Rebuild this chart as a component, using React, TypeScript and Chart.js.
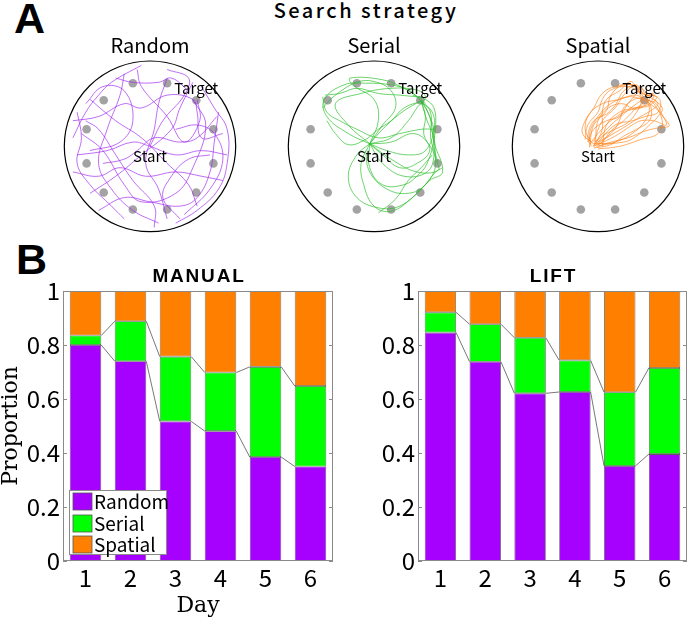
import React, { useEffect, useRef } from 'react';
import { Chart, registerables } from 'chart.js';
Chart.register(...registerables);

// ---------- data ----------
const days = ['1', '2', '3', '4', '5', '6'];
const yTickLabels = ['0', '0.2', '0.4', '0.6', '0.8', '1'];
const strategyNames = ['Random', 'Serial', 'Spatial'];

const manualRandom = [0.8, 0.74, 0.517, 0.481, 0.385, 0.35];
const manualSerial = [0.035, 0.148, 0.24, 0.217, 0.334, 0.298];
const manualSpatial = [0.165, 0.112, 0.243, 0.302, 0.281, 0.352];

const liftRandom = [0.846, 0.738, 0.621, 0.626, 0.352, 0.396];
const liftSerial = [0.075, 0.139, 0.206, 0.117, 0.273, 0.319];
const liftSpatial = [0.079, 0.123, 0.173, 0.257, 0.375, 0.285];

const wells = [
  [0.2, 0.74], [0.54, 0.54], [0.74, 0.2], [0.74, -0.2], [0.54, -0.54], [0.2, -0.74],
  [-0.2, -0.74], [-0.54, -0.54], [-0.74, -0.2], [-0.74, 0.2], [-0.54, 0.54], [-0.2, 0.74],
];
const targetWell = [0.54, 0.54];
const startPoint = [0, 0];

const randomPaths = [
  [[-0.9, 0.3], [-0.6, 0.35], [-0.3, 0.5], [-0.1, 0.45], [0.2, 0.6], [0.5, 0.55], [0.55, 0.4], [0.6, 0.1], [0.85, 0.15]],
  [[-0.85, -0.1], [-0.5, -0.05], [-0.2, 0.05], [0, 0], [0.3, -0.1], [0.6, -0.05], [0.9, -0.1]],
  [[-0.3, 0.85], [-0.35, 0.6], [-0.5, 0.2], [-0.6, -0.2], [-0.45, -0.5], [-0.2, -0.75], [0.1, -0.9]],
  [[0.2, 0.8], [0.1, 0.5], [0.05, 0.2], [-0.05, -0.2], [0.1, -0.5], [0.2, -0.85]],
  [[-0.7, 0.55], [-0.4, 0.3], [-0.1, 0.1], [0.2, -0.2], [0.45, -0.45], [0.55, -0.7]],
  [[0.5, 0.75], [0.35, 0.45], [0.25, 0.2], [-0.1, -0.1], [-0.4, -0.35], [-0.7, -0.55]],
  [[-0.9, -0.3], [-0.6, -0.35], [-0.35, -0.25], [-0.05, -0.35], [0.3, -0.3], [0.6, -0.35], [0.85, -0.4]],
  [[-0.6, -0.75], [-0.3, -0.6], [0, -0.65], [0.35, -0.7], [0.55, -0.6], [0.7, -0.3], [0.75, 0.05], [0.8, 0.4]],
  [[0.55, 0.55], [0.58, 0.3], [0.4, 0.05], [0.2, 0.35], [-0.1, 0.7], [-0.15, 0.9]],
  [[-0.8, 0.15], [-0.55, -0.05], [-0.3, -0.45], [-0.1, -0.65], [0.3, -0.55], [0.5, -0.25], [0.65, 0.25], [0.5, 0.55]],
  [[-0.4, 0.8], [-0.2, 0.75], [0.1, 0.75], [0.25, 0.8], [0.45, 0.65]],
  [[-0.75, 0.5], [-0.55, 0.7], [-0.3, 0.65], [-0.2, 0.3], [-0.35, 0.05], [-0.7, -0.05]],
  [[0.05, -0.95], [0.05, -0.7], [-0.2, -0.4], [-0.4, -0.1], [-0.6, 0.2], [-0.75, 0.3]],
  [[0.3, 0.2], [0.55, 0.25], [0.75, 0.15], [0.85, -0.15], [0.7, -0.5], [0.4, -0.8]],
  [[-0.85, 0.4], [-0.8, 0.1], [-0.85, -0.2], [-0.7, -0.45], [-0.45, -0.7], [-0.3, -0.85]],
  [[0.6, 0.7], [0.75, 0.45], [0.9, 0.2], [0.9, -0.2], [0.8, -0.5], [0.55, -0.75], [0.3, -0.9]],
  [[-0.1, 0.95], [-0.45, 0.75], [-0.6, 0.6], [-0.75, 0.4], [-0.9, 0.1]],
  [[0, 0], [0.15, 0.3], [0.4, 0.6], [0.45, 0.8], [0.2, 0.9]],
  [[-0.55, -0.2], [-0.3, -0.15], [-0.15, -0.05], [0.05, 0.1], [0.35, 0.05], [0.55, 0.1], [0.78, 0.35]],
  [[0.35, -0.85], [0.15, -0.6], [0.25, -0.35], [0.45, -0.15], [0.7, -0.1]],
];

const serialPaths = [
  [[-0.05, 0.03], [0.1, 0.2], [0.3, 0.38], [0.45, 0.48], [0.55, 0.53]],
  [[-0.05, 0.03], [-0.3, 0.15], [-0.55, 0.35], [-0.58, 0.55], [-0.35, 0.72], [-0.1, 0.74], [0.2, 0.72], [0.42, 0.65], [0.55, 0.53]],
  [[0.55, 0.53], [0.62, 0.3], [0.7, 0.1], [0.72, -0.15], [0.75, -0.28], [0.5, -0.3], [0.2, -0.15], [-0.05, 0.03]],
  [[-0.05, 0.03], [-0.15, -0.2], [-0.12, -0.45], [0, -0.7], [0.2, -0.76], [0.45, -0.6], [0.65, -0.4], [0.8, -0.3], [0.7, 0.05], [0.65, 0.35], [0.55, 0.53]],
  [[-0.6, 0.58], [-0.55, 0.4], [-0.4, 0.3], [-0.2, 0.2], [0.05, 0.1], [0.3, 0.15], [0.55, 0.2], [0.7, 0.2]],
  [[-0.05, 0.03], [0.05, 0.3], [0, 0.55], [-0.25, 0.72], [-0.28, 0.8], [0.1, 0.78], [0.35, 0.68], [0.55, 0.55], [0.6, 0.5]],
  [[0.55, 0.53], [0.6, 0.35], [0.58, 0.15], [0.65, -0.05], [0.5, -0.2], [0.3, -0.25], [0.1, -0.1], [-0.05, 0.03]],
  [[-0.05, 0.03], [0.15, -0.05], [0.4, -0.1], [0.6, -0.05], [0.7, 0.2], [0.68, 0.4], [0.55, 0.53]],
  [[-0.05, 0.03], [-0.2, -0.1], [-0.3, -0.35], [-0.2, -0.6], [0.05, -0.72], [0.3, -0.7], [0.55, -0.5], [0.72, -0.3], [0.8, -0.25]],
  [[-0.57, 0.6], [-0.4, 0.62], [-0.2, 0.68], [0.05, 0.62], [0.3, 0.6], [0.5, 0.58]],
  [[0.55, 0.53], [0.35, 0.45], [0.2, 0.3], [0.05, 0.2], [-0.1, 0.08], [-0.3, 0.02], [-0.45, 0.15], [-0.55, 0.3]],
  [[-0.05, 0.03], [0.2, 0.05], [0.45, 0.15], [0.62, 0.05], [0.72, -0.2], [0.6, -0.45], [0.4, -0.55], [0.15, -0.5], [-0.05, -0.3], [-0.1, -0.05]],
  [[0.45, 0.6], [0.6, 0.55], [0.7, 0.45], [0.72, 0.25], [0.7, 0], [0.75, -0.2]],
  [[-0.05, 0.03], [0.1, 0.25], [0.25, 0.45], [0.2, 0.65], [0, 0.76], [-0.2, 0.75], [-0.45, 0.6], [-0.6, 0.45]],
  [[-0.05, 0.03], [-0.05, -0.25], [0.1, -0.45], [0.35, -0.45], [0.5, -0.35], [0.62, -0.2], [0.7, 0.15], [0.62, 0.42], [0.55, 0.53]],
  [[0.05, -0.78], [0.25, -0.62], [0.4, -0.4], [0.55, -0.25], [0.68, -0.1]],
  [[0.55, 0.53], [0.66, 0.4], [0.66, 0.1], [0.7, -0.1], [0.62, -0.3], [0.35, -0.35], [0.1, -0.2], [-0.05, 0.03]],
  [[-0.05, 0.03], [0.2, 0.1], [0.4, 0.3], [0.5, 0.45], [0.6, 0.58], [0.5, 0.66], [0.2, 0.68], [-0.15, 0.62], [-0.45, 0.5], [-0.3, 0.25], [-0.05, 0.03]],
];

const spatialPaths = [
  [[-0.05, 0.03], [0.1, 0.2], [0.3, 0.38], [0.45, 0.5], [0.53, 0.55]],
  [[-0.08, 0], [-0.1, 0.15], [0, 0.35], [0.15, 0.5], [0.35, 0.58], [0.53, 0.55]],
  [[-0.05, 0.03], [-0.18, 0.15], [-0.15, 0.3], [-0.05, 0.45], [0.05, 0.62], [0.2, 0.7], [0.4, 0.72], [0.53, 0.58]],
  [[-0.02, 0], [0.2, 0.05], [0.4, 0.15], [0.55, 0.3], [0.6, 0.45], [0.55, 0.55]],
  [[0, -0.03], [0.25, 0], [0.5, 0.08], [0.7, 0.15], [0.75, 0.3], [0.65, 0.5], [0.55, 0.56]],
  [[-0.05, 0.05], [0.05, 0.3], [0.2, 0.45], [0.3, 0.6], [0.42, 0.7], [0.55, 0.6]],
  [[-0.1, 0.02], [0, 0.15], [0.15, 0.3], [0.35, 0.42], [0.5, 0.45], [0.6, 0.55], [0.55, 0.62]],
  [[-0.05, 0], [0.1, 0.1], [0.3, 0.22], [0.5, 0.35], [0.62, 0.42], [0.7, 0.5], [0.6, 0.58]],
  [[-0.03, 0.03], [0.05, 0.2], [0.05, 0.4], [0.1, 0.55], [0.25, 0.65], [0.38, 0.76], [0.45, 0.68], [0.52, 0.55]],
  [[0, 0], [0.15, 0.05], [0.35, 0.1], [0.55, 0.18], [0.72, 0.22], [0.83, 0.24], [0.76, 0.35], [0.68, 0.5], [0.58, 0.54]],
  [[-0.08, 0.05], [-0.15, 0.2], [-0.1, 0.38], [0.05, 0.5], [0.25, 0.55], [0.45, 0.6], [0.55, 0.52]],
  [[-0.05, 0.02], [0.15, 0.15], [0.25, 0.3], [0.3, 0.45], [0.42, 0.55], [0.53, 0.57]],
  [[0, 0.05], [0.2, 0.25], [0.4, 0.3], [0.55, 0.35], [0.7, 0.4], [0.72, 0.55], [0.6, 0.6], [0.52, 0.55]],
  [[-0.06, 0], [0.05, 0.12], [0.2, 0.2], [0.35, 0.28], [0.45, 0.4], [0.5, 0.5], [0.52, 0.56]],
  [[-0.1, -0.01], [-0.05, 0.25], [0.1, 0.42], [0.15, 0.6], [0.3, 0.72], [0.5, 0.68], [0.6, 0.58]],
  [[-0.05, 0.03], [0.3, 0.05], [0.45, 0.12], [0.6, 0.25], [0.7, 0.35], [0.75, 0.45], [0.65, 0.55]],
  [[0.05, 0], [0.1, 0.25], [0.25, 0.4], [0.45, 0.45], [0.6, 0.48], [0.68, 0.58], [0.55, 0.6]],
  [[-0.12, 0.05], [-0.05, 0.2], [0.1, 0.3], [0.25, 0.35], [0.35, 0.5], [0.45, 0.62], [0.5, 0.7], [0.55, 0.6]],
  [[-0.03, 0.05], [0, 0.3], [0.12, 0.45], [0.28, 0.5], [0.4, 0.45], [0.5, 0.48], [0.55, 0.55]],
  [[0, 0.02], [0.2, 0.12], [0.4, 0.25], [0.5, 0.3], [0.65, 0.3], [0.8, 0.25], [0.72, 0.4], [0.58, 0.52]],
  [[-0.05, 0], [0.05, 0.05], [0.15, 0.18], [0.3, 0.3], [0.38, 0.38], [0.45, 0.45], [0.6, 0.5], [0.65, 0.62], [0.55, 0.58]],
  [[-0.1, 0.03], [-0.12, 0.12], [-0.05, 0.3], [0.1, 0.38], [0.2, 0.48], [0.3, 0.65], [0.45, 0.72], [0.53, 0.6]],
  [[-0.15, 0.08], [-0.12, 0.25], [0, 0.4], [0.05, 0.55], [0.15, 0.66], [0.35, 0.7], [0.5, 0.62]],
  [[-0.05, -0.02], [0.15, 0.02], [0.3, 0.12], [0.45, 0.2], [0.6, 0.3], [0.62, 0.45], [0.56, 0.55]],
];

// ---------- styles ----------
const PURPLE = '#A600FF';
const GREEN = '#00FF00';
const ORANGE = '#FF8000';
const GOTHIC = "'Noto Sans CJK JP', 'Noto Sans', sans-serif";
const SERIF = "'DejaVu Serif', serif";

function PoolChart({ left, title, color, paths }: { left: number; title: string; color: string; paths: number[][][] }) {
  const ref = useRef<HTMLCanvasElement>(null);
  useEffect(() => {
    const canvas = ref.current!;
    const poolPlugin = {
      id: 'pool',
      beforeDatasetsDraw(chart: any) {
        const { ctx, scales } = chart;
        const cx = scales.x.getPixelForValue(0);
        const cy = scales.y.getPixelForValue(0);
        const rx = scales.x.getPixelForValue(1) - cx;
        const ry = cy - scales.y.getPixelForValue(1);
        ctx.save();
        ctx.beginPath();
        ctx.ellipse(cx, cy, rx, ry, 0, 0, Math.PI * 2);
        ctx.strokeStyle = '#000';
        ctx.lineWidth = 1.2;
        ctx.stroke();
        ctx.restore();
      },
      afterDatasetsDraw(chart: any) {
        const { ctx, scales, chartArea } = chart;
        ctx.save();
        ctx.fillStyle = '#000';
        ctx.textAlign = 'center';
        ctx.textBaseline = 'alphabetic';
        ctx.font = `15px ${GOTHIC}`;
        ctx.fillText('Target', scales.x.getPixelForValue(targetWell[0]), scales.y.getPixelForValue(targetWell[1]) - 6);
        ctx.fillText('Start', scales.x.getPixelForValue(startPoint[0]), scales.y.getPixelForValue(startPoint[1]) + 16);
        ctx.font = `20px ${GOTHIC}`;
        ctx.fillText(title, (chartArea.left + chartArea.right) / 2, 23);
        ctx.restore();
      },
    };
    const datasets: any[] = paths.map((p) => ({
      data: p.map(([x, y]) => ({ x, y })),
      showLine: true,
      borderColor: color,
      borderWidth: 0.8,
      pointRadius: 0,
      tension: 0.4,
      fill: false,
    }));
    datasets.push({
      data: wells.map(([x, y]) => ({ x, y })),
      showLine: false,
      pointRadius: 4.3,
      pointBackgroundColor: '#a3a3a3',
      pointBorderWidth: 0,
      backgroundColor: '#a3a3a3',
    });
    const chart = new Chart(canvas, {
      type: 'scatter',
      data: { datasets },
      options: {
        animation: false,
        responsive: false,
        maintainAspectRatio: false,
        layout: { padding: { left: 4, right: 4, top: 31, bottom: 3 } },
        plugins: { legend: { display: false }, tooltip: { enabled: false }, title: { display: false } },
        scales: {
          x: { type: 'linear', min: -1, max: 1, display: false },
          y: { type: 'linear', min: -1, max: 1, display: false },
        },
      },
      plugins: [poolPlugin],
    } as any);
    return () => chart.destroy();
  }, []);
  return (
    <canvas
      ref={ref}
      width={180}
      height={206}
      style={{ position: 'absolute', left, top: 30, width: 180, height: 206 }}
    />
  );
}

function BarChart(props: {
  left: number; title: string; random: number[]; serial: number[]; spatial: number[];
  yTitle: boolean; xTitle: boolean; legend: boolean; axisWidth: number; padRight: number;
}) {
  const ref = useRef<HTMLCanvasElement>(null);
  useEffect(() => {
    const canvas = ref.current!;
    const { title, random, serial, spatial } = props;
    const barPlugin = {
      id: 'barDecor',
      afterDatasetsDraw(chart: any) {
        const { ctx, chartArea: ca, scales } = chart;
        const ys = scales.y;
        const bars = chart.getDatasetMeta(0).data;
        const lvlA = random;
        const lvlB = random.map((r, i) => r + serial[i]);
        ctx.save();
        // connector lines
        ctx.strokeStyle = '#555';
        ctx.lineWidth = 0.8;
        [lvlA, lvlB].forEach((lvl) => {
          for (let i = 0; i < bars.length - 1; i++) {
            const b0 = bars[i], b1 = bars[i + 1];
            ctx.beginPath();
            ctx.moveTo(b0.x + b0.width / 2, ys.getPixelForValue(lvl[i]));
            ctx.lineTo(b1.x - b1.width / 2, ys.getPixelForValue(lvl[i + 1]));
            ctx.stroke();
          }
        });
        // frame
        ctx.strokeStyle = '#8a8a8a';
        ctx.lineWidth = 1;
        ctx.strokeRect(ca.left + 0.5, ca.top + 0.5, ca.right - ca.left - 1, ca.bottom - ca.top - 1);
        ys.ticks.forEach((t: any) => {
          const py = Math.round(ys.getPixelForValue(t.value)) + 0.5;
          ctx.beginPath();
          ctx.moveTo(ca.left, py); ctx.lineTo(ca.left + 4, py);
          ctx.moveTo(ca.right, py); ctx.lineTo(ca.right - 4, py);
          ctx.stroke();
        });
        // title
        ctx.fillStyle = '#000';
        ctx.font = `bold 19px 'Liberation Sans', Arial, sans-serif`;
        (ctx as any).letterSpacing = '1.8px';
        ctx.textAlign = 'center';
        ctx.textBaseline = 'alphabetic';
        ctx.fillText(title, (ca.left + ca.right) / 2 + 1, ca.top - 9);
        (ctx as any).letterSpacing = '0px';
        // legend
        if (props.legend) {
          const x0 = ca.left + 6, w = 97, h = 64;
          const y0 = ca.bottom - 7 - h;
          ctx.fillStyle = '#fff';
          ctx.fillRect(x0, y0, w, h);
          ctx.strokeStyle = '#8a8a8a';
          ctx.strokeRect(x0 + 0.5, y0 + 0.5, w, h);
          const cols = [PURPLE, GREEN, ORANGE];
          const rowY = [3, 25, 46];
          ctx.font = `19px ${GOTHIC}`;
          ctx.textAlign = 'left';
          ctx.textBaseline = 'middle';
          strategyNames.forEach((name, i) => {
            ctx.fillStyle = cols[i];
            ctx.fillRect(x0 + 4, y0 + rowY[i], 19, 17);
            ctx.strokeStyle = '#555';
            ctx.lineWidth = 0.8;
            ctx.strokeRect(x0 + 4, y0 + rowY[i], 19, 17);
            ctx.fillStyle = '#000';
            ctx.fillText(name, x0 + 25, y0 + rowY[i] + 9);
          });
        }
        ctx.restore();
      },
    };
    const common = { borderColor: '#5a5a5a', borderWidth: 0.8, borderSkipped: false, barPercentage: 0.7, categoryPercentage: 1 };
    const chart = new Chart(canvas, {
      type: 'bar',
      data: {
        labels: days,
        datasets: [
          { label: strategyNames[0], data: random, backgroundColor: PURPLE, ...common },
          { label: strategyNames[1], data: serial, backgroundColor: GREEN, ...common },
          { label: strategyNames[2], data: spatial, backgroundColor: ORANGE, ...common },
        ],
      },
      options: {
        animation: false,
        responsive: false,
        maintainAspectRatio: false,
        layout: { padding: { left: 0, right: props.padRight, top: 51, bottom: 0 } },
        plugins: { legend: { display: false }, tooltip: { enabled: false }, title: { display: false } },
        scales: {
          x: {
            stacked: true,
            grid: { display: false, drawTicks: false },
            border: { display: false },
            ticks: { color: '#000', padding: 2, font: { family: GOTHIC, size: 24, lineHeight: 1.2 } },
            title: {
              display: props.xTitle, text: 'Day', color: '#000',
              font: { family: SERIF, size: 22, lineHeight: 1.2 }, padding: 0,
            },
            afterFit: (s: any) => { s.height = 58; },
          },
          y: {
            stacked: true,
            min: 0,
            max: 1,
            grid: { display: false, drawTicks: false },
            border: { display: false },
            ticks: {
              stepSize: 0.2, color: '#000', padding: 3,
              font: { family: GOTHIC, size: 24, lineHeight: 1.2 },
              callback: (_v: any, i: number) => yTickLabels[i],
            },
            title: {
              display: props.yTitle, text: 'Proportion', color: '#000',
              font: { family: SERIF, size: 22, lineHeight: 1.0 }, padding: 0,
            },
            afterFit: (s: any) => { s.width = props.axisWidth; },
          },
        },
      },
      plugins: [barPlugin],
    } as any);
    return () => chart.destroy();
  }, []);
  return (
    <canvas
      ref={ref}
      width={345}
      height={379}
      style={{ position: 'absolute', left: props.left, top: 240, width: 345, height: 379 }}
    />
  );
}

export default function App() {
  const letter: React.CSSProperties = {
    position: 'absolute', fontFamily: "'Liberation Sans', Arial, sans-serif", fontWeight: 'bold',
    fontSize: 43, lineHeight: '43px', margin: 0, color: '#000',
  };
  return (
    <div style={{ position: 'absolute', left: 0, top: 0, width: 690, height: 619, background: '#fff', overflow: 'hidden' }}>
      <div style={{ ...letter, left: 14, top: -3 }}>A</div>
      <div style={{ ...letter, left: 16, top: 238 }}>B</div>
      <div
        style={{
          position: 'absolute', left: 216, width: 300, top: -2, textAlign: 'center',
          fontFamily: GOTHIC, fontSize: 20, fontWeight: 500, lineHeight: '24px', letterSpacing: '2.5px', color: '#000', whiteSpace: 'nowrap',
        }}
      >
        Search strategy
      </div>
      <PoolChart left={60} title={strategyNames[0]} color="rgba(160,40,240,0.85)" paths={randomPaths} />
      <PoolChart left={284} title={strategyNames[1]} color="rgba(40,190,40,0.85)" paths={serialPaths} />
      <PoolChart left={508} title={strategyNames[2]} color="rgba(255,128,20,0.8)" paths={spatialPaths} />
      <BarChart left={0} title="MANUAL" random={manualRandom} serial={manualSerial} spatial={manualSpatial}
        yTitle xTitle legend axisWidth={63} padRight={12} />
      <BarChart left={345} title="LIFT" random={liftRandom} serial={liftSerial} spatial={liftSpatial}
        yTitle={false} xTitle={false} legend={false} axisWidth={73} padRight={3} />
    </div>
  );
}
